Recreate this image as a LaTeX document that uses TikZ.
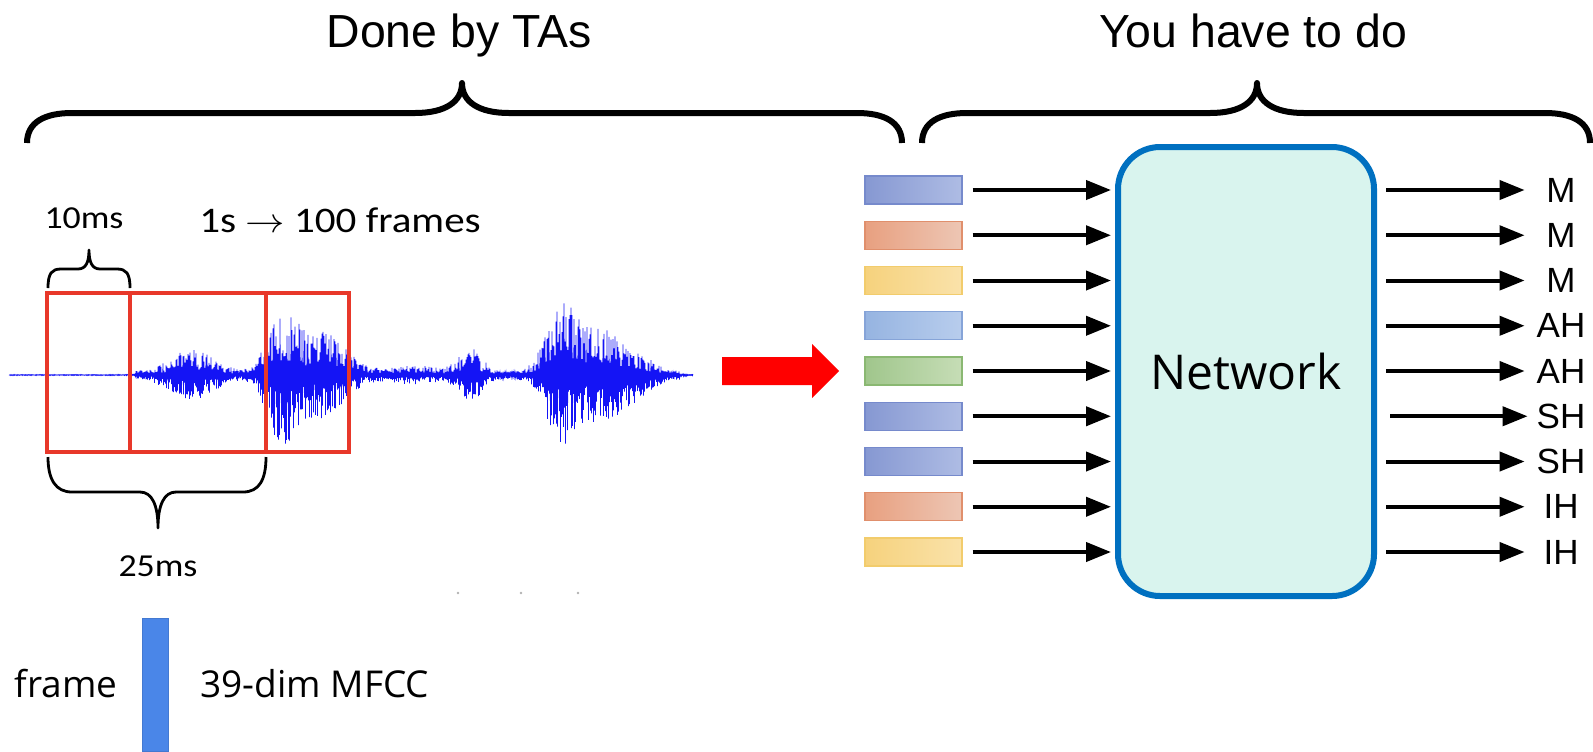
\documentclass[tikz,border=0pt]{standalone}
\usepackage{fontspec}
\setmainfont{Liberation Sans}
\newfontfamily\carlfont{Carlito}
\newfontfamily\opensans{Open Sans}
\usetikzlibrary{arrows.meta}
\definecolor{pbL}{RGB}{134,152,210}\definecolor{pbR}{RGB}{174,188,228}\definecolor{pbD}{RGB}{118,138,204}
\definecolor{orL}{RGB}{232,160,128}\definecolor{orR}{RGB}{237,198,180}\definecolor{orD}{RGB}{224,143,108}
\definecolor{yeL}{RGB}{246,210,125}\definecolor{yeR}{RGB}{250,226,170}\definecolor{yeD}{RGB}{242,204,108}
\definecolor{lbL}{RGB}{150,180,225}\definecolor{lbR}{RGB}{184,205,237}\definecolor{lbD}{RGB}{134,164,216}
\definecolor{grL}{RGB}{160,198,140}\definecolor{grR}{RGB}{198,221,182}\definecolor{grD}{RGB}{138,184,114}
\definecolor{netfill}{RGB}{217,244,238}
\definecolor{netdraw}{RGB}{0,112,192}
\definecolor{framered}{RGB}{232,56,42}
\definecolor{wave}{RGB}{20,20,245}
\definecolor{frameblue}{RGB}{74,134,232}
\begin{document}
\begin{tikzpicture}[x=0.5pt,y=-0.5pt,
  declare function={g(\a,\c,\w)=exp(-min(((\a-\c)/\w)^2,9));
    env(\a)=0.5+3*(\a>135)*(\a<680)+22*g(\a,192,30)+55*g(\a,280,18)+42*g(\a,318,35)+6*g(\a,415,30)+24*g(\a,470,16)+58*g(\a,562,22)+42*g(\a,608,38);
    alt(\a)=cos(180*mod(2*\a,2));},
  bigbrace/.style={line width=3pt, line join=round},
  smallbrace/.style={line width=1.4pt, line join=round},
  bar/.style={minimum width=48.5pt, minimum height=14pt, inner sep=0pt, line width=0.6pt},
  arr/.style={line width=2pt, -{Triangle[length=12.5pt,width=9.5pt]}},
  lab/.style={minimum width=30pt, inner sep=0pt, font=\fontsize{17.5}{20}\selectfont},
  redbox/.style={draw=framered, line width=2pt},
]
\useasboundingbox (0,0) rectangle (1593,751);

% titles
\node[anchor=base, inner sep=0pt, font=\fontsize{23.2}{28}\selectfont] (tleft) at (459,47) {Done by TAs};
\node[anchor=base, inner sep=0pt, font=\fontsize{23.2}{28}\selectfont] (tright) at (1253,47) {You have to do};

% big braces
\draw[bigbrace] (27,143) .. controls (27,122) and (45,113) .. (72,113) -- (415,113)
  .. controls (445,113) and (462,102) .. (462,83) .. controls (462,102) and (479,113) .. (509,113)
  -- (857,113) .. controls (884,113) and (902,122) .. (902,143);
\draw[bigbrace] (922,143) .. controls (922,122) and (940,113) .. (967,113) -- (1210,113)
  .. controls (1240,113) and (1257,102) .. (1257,83) .. controls (1257,102) and (1274,113) .. (1304,113)
  -- (1545,113) .. controls (1572,113) and (1590,122) .. (1590,143);

% waveform
\pgfmathsetseed{4711}
\draw[wave, line width=0.32pt] plot[domain=9:693, samples=1369, variable=\t] (\t, {375 - env(\t)*(0.2+0.8*rnd)*alt(\t)});

% red frames
\draw[redbox] (47,293) rectangle (266,452);
\draw[redbox] (130,293) rectangle (349,452);

% small braces
\draw[smallbrace] (48,288) .. controls (48,273) and (52,269) .. (61,269) -- (78,269)
  .. controls (86,269) and (89,262) .. (89,250) .. controls (89,262) and (92,269) .. (100,269)
  -- (117,269) .. controls (126,269) and (130,273) .. (130,288);
\draw[smallbrace] (48,457) .. controls (48,480) and (56,492) .. (72,492) -- (140,492)
  .. controls (152,492) and (158,505) .. (158,528) .. controls (158,505) and (164,492) .. (176,492)
  -- (243,492) .. controls (259,492) and (266,480) .. (266,457);

% labels of the left part
\node[inner sep=0pt, font=\carlfont\fontsize{16}{19}\selectfont] (t10) at (84,218) {\scalebox{1.12}[1]{10ms}};
\node[inner sep=0pt, font=\carlfont\fontsize{18}{21}\selectfont] (tsec) at (340,220) {\scalebox{1.14}[1]{1s $\rightarrow$ 100 frames}};
\node[inner sep=0pt, font=\carlfont\fontsize{16}{19}\selectfont] (t25) at (158,566) {\scalebox{1.12}[1]{25ms}};

% tiny dots
\fill[gray!60] (458,593) circle (0.7pt) (521,593) circle (0.7pt) (578,593) circle (0.7pt);

% red arrow
\fill[red] (722,357) -- (812,357) -- (812,344) -- (839,371) -- (812,398) -- (812,385) -- (722,385) -- cycle;

% network
\node[draw=netdraw, fill=netfill, line width=3pt, rounded corners=21pt, minimum width=128pt, minimum height=224.5pt, inner sep=0pt,
  font=\opensans\fontsize{24}{28}\selectfont] (net) at (1246,371.5) {Network};

% feature bars
\foreach \i/\c in {1/pb,2/or,3/ye,4/lb,5/gr,6/pb,7/pb,8/or,9/ye}{
  \pgfmathsetmacro\yy{190+45.25*(\i-1)}
  \node[bar, left color=\c L, right color=\c R, draw=\c D] (b\i) at (913.5,\yy) {};
}
\foreach \i in {1,...,9}
  \draw[arr, shorten <=5pt, shorten >=2pt] (b\i.east) -- (b\i.east -| net.west);

% output labels
\foreach \i/\t in {1/M,2/M,3/M,4/AH,5/AH,6/SH,7/SH,8/IH,9/IH}{
  \pgfmathsetmacro\yy{190+45.25*(\i-1)}
  \node[lab] (l\i) at (1561,\yy) {\t};
}
\foreach \i in {1,2,3,4,5,7,8,9}
  \draw[arr, shorten <=4.5pt, shorten >=3pt] (net.east |- l\i) -- (l\i.west);
\draw[arr, shorten <=6.5pt, shorten >=1.5pt] (net.east |- l6) -- (l6.west);

% bottom legend
\node[fill=frameblue, draw=frameblue!90!black, line width=0.5pt, minimum width=13pt, minimum height=66.5pt, inner sep=0pt, anchor=north west] (fb) at (142,618) {};
\node[anchor=base, inner sep=0pt, font=\opensans\fontsize{18.5}{22}\selectfont] (fr) at (66,697) {frame};
\node[anchor=base west, inner sep=0pt, font=\opensans\fontsize{18.5}{22}\selectfont] (mfcc) at (200,697) {39-dim MFCC};
\end{tikzpicture}
\end{document}
